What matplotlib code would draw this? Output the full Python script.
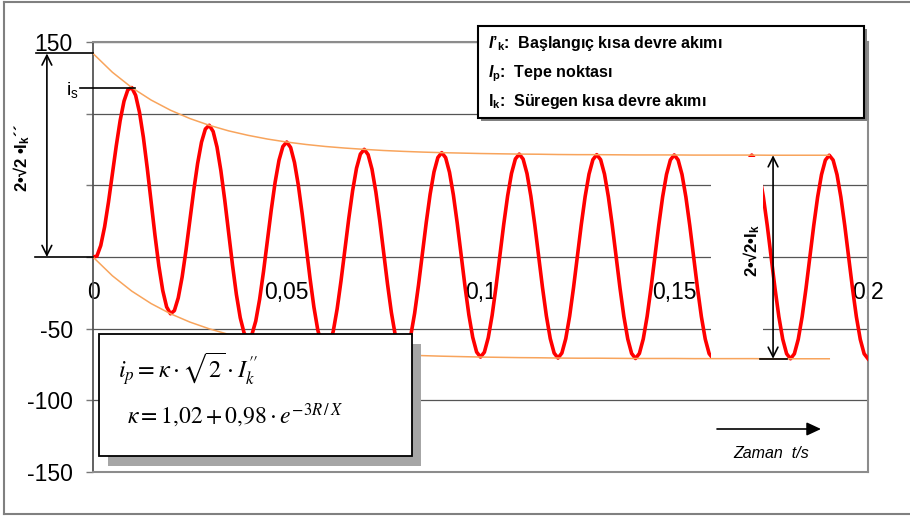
import matplotlib.pyplot as plt
import matplotlib.patches as mpatches
from matplotlib.lines import Line2D
import numpy as np

plt.rcParams['font.family'] = ['Liberation Sans', 'DejaVu Sans']
plt.rcParams['axes.unicode_minus'] = False
plt.rcParams['mathtext.fontset'] = 'custom'
plt.rcParams['mathtext.rm'] = 'Liberation Sans:bold'
plt.rcParams['mathtext.it'] = 'Liberation Sans:italic:bold'
plt.rcParams['mathtext.bf'] = 'Liberation Sans:bold'
plt.rcParams['mathtext.sf'] = 'Liberation Sans'

# short-circuit current, one sample per millisecond (0 ... 200 ms)
current = [
    0.0, 0.6, 8.0, 21.1, 38.4, 57.9, 77.5, 95.1, 108.7, 116.7,
    118.2, 112.8, 100.9, 83.5, 62.0, 38.5, 15.0, -6.3, -23.4, -34.8,
    -39.6, -37.4, -28.5, -14.0, 4.7, 25.6, 46.5, 65.3, 80.1, 89.3,
    91.9, 87.6, 76.7, 60.2, 39.7, 17.0, -5.6, -26.1, -42.4, -53.1,
    -57.1, -54.2, -44.7, -29.5, -10.2, 11.3, 32.8, 52.2, 67.5, 77.1,
    80.2, 76.4, 65.9, 49.9, 29.8, 7.5, -14.7, -34.8, -50.8, -61.1,
    -64.9, -61.6, -51.8, -36.3, -16.7, 5.0, 26.7, 46.3, 61.9, 71.8,
    75.1, 71.4, 61.2, 45.3, 25.4, 3.3, -18.8, -38.7, -54.5, -64.7,
    -68.3, -64.9, -54.9, -39.3, -19.6, 2.2, 24.1, 43.8, 59.4, 69.4,
    72.8, 69.3, 59.1, 43.3, 23.5, 1.5, -20.5, -40.4, -56.1, -66.3,
    -69.8, -66.4, -56.3, -40.7, -20.9, 1.0, 22.9, 42.6, 58.3, 68.4,
    71.8, 68.3, 58.2, 42.4, 22.6, 0.7, -21.3, -41.1, -56.9, -67.0,
    -70.5, -67.0, -57.0, -41.3, -21.5, 0.4, 22.4, 42.1, 57.8, 67.9,
    71.4, 67.9, 57.8, 42.0, 22.2, 0.3, -21.7, -41.5, -57.2, -67.3,
    -70.8, -67.3, -57.2, -41.5, -21.7, 0.2, 22.1, 41.9, 57.6, 67.7,
    71.2, 67.7, 57.6, 41.9, 22.1, 0.1, -21.8, -41.6, -57.3, -67.4,
    -70.9, -67.4, -57.4, -41.6, -21.9, 0.1, 22.0, 41.8, 57.5, 67.6,
    71.1, 67.6, 57.5, 41.8, 22.0, 0.1, -21.9, -41.7, -57.4, -67.5,
    -71.0, -67.5, -57.4, -41.7, -21.9, 0.0, 22.0, 41.8, 57.5, 67.6,
    71.0, 67.6, 57.5, 41.8, 22.0, 0.0, -21.9, -41.7, -57.4, -67.5,
    -71.0]
t_ms = np.arange(len(current))

# envelope curves, every 5 ms
env_ms = np.arange(0, 195, 5)
upper = [142.0, 128.9, 118.2, 109.5, 102.4, 96.6, 91.9, 88.0, 84.9, 82.3,
         80.2, 78.5, 77.1, 76.0, 75.1, 74.3, 73.7, 73.2, 72.8, 72.5,
         72.2, 72.0, 71.8, 71.7, 71.5, 71.4, 71.4, 71.3, 71.2, 71.2,
         71.2, 71.1, 71.1, 71.1, 71.1, 71.0, 71.0, 71.0, 71.0]
lower = [0.0, -13.1, -23.8, -32.5, -39.6, -45.4, -50.1, -54.0, -57.1, -59.7,
         -61.8, -63.5, -64.9, -66.0, -66.9, -67.7, -68.3, -68.8, -69.2, -69.5,
         -69.8, -70.0, -70.2, -70.3, -70.5, -70.6, -70.6, -70.7, -70.8, -70.8,
         -70.8, -70.9, -70.9, -70.9, -70.9, -71.0, -71.0, -71.0, -71.0]

y_ticks = [-150, -100, -50, 0, 50, 100, 150]
y_labels = ['-150', '-100', '-50', '', '', '', '150']
x_ticks = [0, 0.05, 0.1, 0.15, 0.2]
x_labels = ['0', '0,05', '0,1', '0,15', '0,2']

W, H = 910, 517


def fx(x):
    return x / W


def fy(y):
    return 1 - y / H


fig = plt.figure(figsize=(W / 100, H / 100), dpi=100)
ax = fig.add_axes([fx(93), fy(472), (868 - 93) / W, (472 - 42) / H])
ax.set_xlim(0, 0.2)
ax.set_ylim(-150, 150)

t = t_ms / 1000
env_t = env_ms / 1000
ax.plot(t, current, color='#ff0000', lw=2.6, zorder=3)
ax.plot(env_t, upper, color='#f8a45c', lw=1.1, zorder=5)
ax.plot(env_t, lower, color='#f8a45c', lw=1.1, zorder=5)

# axes frame, grid and ticks
ax.set_yticks(y_ticks)
ax.set_yticklabels(y_labels)
ax.yaxis.grid(True, color='#555555', lw=0.9)
ax.set_axisbelow(True)
ax.tick_params(axis='y', direction='out', length=5, width=1, color='#777777',
               pad=9.4, labelsize=16.5)
ax.set_xticks([])
for side in ['top', 'right', 'bottom']:
    ax.spines[side].set_color('#8c8c8c')
    ax.spines[side].set_linewidth(1.5)
ax.spines['left'].set_color('#555555')
ax.spines['left'].set_linewidth(1.3)

# time labels sit just under the zero line
secax = ax.secondary_xaxis(0.5)
secax.xaxis.set_ticks_position('bottom')
secax.set_xticks(x_ticks, labels=x_labels)
secax.tick_params(length=0, pad=17, labelsize=16.5, labelbottom=True, labeltop=False)
for s in secax.spines.values():
    s.set_visible(False)

# blank strip behind the steady-state marker
ax.add_patch(mpatches.Rectangle((fx(711), fy(366)), fx(763) - fx(711), fy(157) - fy(366),
                                transform=fig.transFigure, facecolor='white',
                                edgecolor='none', zorder=4, clip_on=False))

# initial current marker on the left
is_peak = max(current)
arrow = dict(arrowstyle='<->,head_length=0.7,head_width=0.35', color='black',
             lw=1.2, shrinkA=0, shrinkB=0)
ax.annotate('', xy=(-0.0119, 0), xytext=(-0.0119, upper[0]),
            arrowprops=arrow, annotation_clip=False, zorder=6)
ax.plot([-0.0147, 0], [upper[0], upper[0]], color='black', lw=1.2, clip_on=False, zorder=6)
ax.plot([-0.0150, 0], [0, 0], color='black', lw=1.2, clip_on=False, zorder=6)
ax.plot([-0.0034, 0.0108], [is_peak, is_peak], color='black', lw=1.2, clip_on=False, zorder=6)

# steady-state marker on the right
ax.annotate('', xy=(0.1755, lower[-1]), xytext=(0.1755, upper[-1]),
            arrowprops=arrow, annotation_clip=False, zorder=6)
ax.plot([0.1721, 0.1791], [lower[-1], lower[-1]], color='black', lw=1.2, zorder=6)

fig.text(fx(22), fy(158), "2•√2 •I$_{\\mathrm{k}}$´´", rotation=90, ha='center',
         va='center', fontsize=12, fontweight='bold')
fig.text(fx(752), fy(251), "2•√2•I$_{\\mathrm{k}}$", rotation=90, ha='center',
         va='center', fontsize=12, fontweight='bold')
fig.text(fx(66), fy(95), "i$_{\\mathsf{s}}$", fontsize=14, ha='left', va='baseline')

# legend box
fig.add_artist(mpatches.Rectangle((fx(481), fy(121)), (864 - 478) / W, (118 - 26) / H,
                                  transform=fig.transFigure, facecolor='#808080',
                                  edgecolor='none'))
fig.add_artist(mpatches.Rectangle((fx(478), fy(118)), (864 - 478) / W, (118 - 26) / H,
                                  transform=fig.transFigure, facecolor='white',
                                  edgecolor='black', lw=1.5))
legend_lines = [
    ("$\\mathit{I’}_{\\mathrm{k}}$:  Başlangıç kısa devre akımı", 48),
    ("$\\mathit{I}_{\\mathrm{p}}$:  Tepe noktası", 77),
    ("$\\mathrm{I}_{\\mathrm{k}}$:  Süregen kısa devre akımı", 106),
]
for txt, yb in legend_lines:
    fig.text(fx(488), fy(yb), txt, fontsize=11.5, fontweight='bold',
             ha='left', va='baseline')

# formula box
fig.add_artist(mpatches.Rectangle((fx(108), fy(466)), (412 - 99) / W, (456 - 334) / H,
                                  transform=fig.transFigure, facecolor='#a6a6a6',
                                  edgecolor='none'))
fig.add_artist(mpatches.Rectangle((fx(99), fy(456)), (412 - 99) / W, (456 - 334) / H,
                                  transform=fig.transFigure, facecolor='white',
                                  edgecolor='black', lw=1.3))
fig.text(fx(118), fy(379), r"$i_p = \kappa \cdot \sqrt{2} \cdot I_k^{\prime\prime}$",
         fontsize=17.5, math_fontfamily='stix', ha='left', va='baseline')
fig.text(fx(127), fy(424), r"$\kappa = 1{,}02 + 0{,}98 \cdot e^{-3R\,/\,X}$",
         fontsize=17, math_fontfamily='stix', ha='left', va='baseline')

# time direction arrow
ax.annotate('', xy=(fx(821), fy(429)), xytext=(fx(717), fy(429)),
            xycoords='figure fraction', textcoords='figure fraction',
            arrowprops=dict(arrowstyle='-|>,head_length=0.86,head_width=0.4',
                            color='black', lw=1.2, shrinkA=0, shrinkB=0))
fig.text(fx(733), fy(458), "Zaman  t/s", fontsize=11.5, style='italic',
         ha='left', va='baseline')

# outer frame
for xs, ys in [([4, 4], [1.5, 514]), ([4, 910], [514, 514]), ([4, 910], [1.5, 1.5])]:
    fig.add_artist(Line2D([fx(x) for x in xs], [fy(y) for y in ys],
                          transform=fig.transFigure, color='#808080', lw=1.5))

fig.savefig('out.png', dpi=100)
